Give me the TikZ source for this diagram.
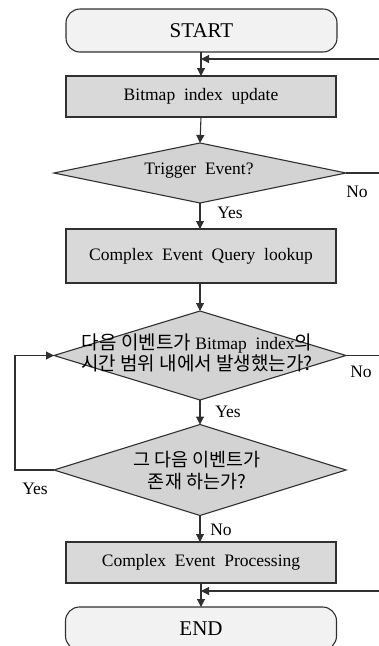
\documentclass[tikz,border=0pt]{standalone}
\usepackage{fontspec}
\setmainfont{Liberation Serif}
\newfontfamily\krfont{Noto Sans CJK KR}
\usetikzlibrary{shapes.geometric,arrows.meta}
\definecolor{termfill}{HTML}{F2F2F2}
\definecolor{boxfill}{HTML}{D9D9D9}
\definecolor{decfill}{HTML}{D3D3D3}
\definecolor{linecol}{HTML}{303030}
\newcommand\wsp{\hspace{0.5em}}
\tikzset{
  x=1pt, y=-1pt,
  base/.style={draw=linecol, line width=1.1pt, inner sep=0pt, outer sep=0pt},
  terminal/.style={base, fill=termfill, rounded corners=14pt,
    minimum width=271pt, minimum height=43pt, font=\fontsize{21}{24}\selectfont},
  process/.style={base, fill=boxfill, minimum width=270pt, font=\fontsize{17.5}{21}\selectfont},
  decision/.style={base, fill=decfill, diamond, minimum width=292pt},
  dtext/.style={align=center, font=\fontsize{17.5}{21}\selectfont},
  krtext/.style={align=center, font=\fontsize{19}{21}\selectfont},
  lbl/.style={font=\fontsize{17.5}{21}\selectfont, inner sep=0pt},
  flow/.style={draw=linecol, line width=1.1pt, -{Triangle[length=8pt,width=8pt]}},
  wire/.style={draw=linecol, line width=1.1pt},
}
\begin{document}
\begin{tikzpicture}
\useasboundingbox (0,0) rectangle (379,646);
\begin{scope}
\clip (0,0) rectangle (379,646);

% main column of boxes and decisions
\node[terminal] (start) at (201.5,30.5) {START};
\node[process, minimum height=41pt] (bitmap) at (201,96.5) {Bitmap\wsp index\wsp update};
\node[decision, minimum height=60pt] (trig) at (200,173) {};
\node[dtext] at (199,171) {Trigger\wsp Event?};
\node[process, minimum height=54pt] (query) at (201,256) {Complex\wsp Event\wsp Query\wsp lookup};
\node[decision, minimum height=89pt] (next) at (200,355.5) {};
\node[krtext] at (197,353) {\krfont 다음 이벤트가 {\rmfamily\fontsize{17.5}{21}\selectfont Bitmap\wsp index}의\\\krfont 시간 범위 내에서 발생했는가?};
\node[decision, minimum height=91pt] (exist) at (200,470) {};
\node[krtext, font=\fontsize{18.5}{22}\selectfont] at (197,471) {\krfont 그 다음 이벤트가\\\krfont 존재 하는가?};
\node[process, minimum height=41pt] (cep) at (201,562.5) {Complex\wsp Event\wsp Processing};
\node[terminal] (end) at (201,628.5) {END};

% loop-back points on the right edge
\coordinate (r1) at (379,59);
\coordinate (r2) at (379,173);
\coordinate (r3) at (379,355.5);
\coordinate (r4) at (379,591);
\coordinate (l1) at (15,470);
\coordinate (l2) at (15,355.5);

% straight flow
\draw[flow] (start.south -| bitmap.north) -- (bitmap.north);
\draw[flow] (bitmap.south) -- (trig.north);
\draw[flow] (trig.south) -- (query.north -| trig.south);
\draw[flow] (query.south -| next.north) -- (next.north);
\draw[flow] (next.south) -- (exist.north);
\draw[flow] (exist.south) -- (cep.north -| exist.south);
\draw[flow] (cep.south) -- (end.north);

% returns from the right edge
\draw[flow] (r1) -- (r1 -| bitmap.north);
\draw[flow] (r4) -- (r4 -| cep.south);
\draw[wire] (trig.east) -- (r2);
\draw[wire] (next.east) -- (r3);

% "Yes" loop on the left
\draw[flow] (exist.west) -- (l1) -- (l2) -- (next.west);

% branch labels
\node[lbl] at (357,192) {No};
\node[lbl] at (230,213) {Yes};
\node[lbl] at (361,372) {No};
\node[lbl] at (228,412) {Yes};
\node[lbl] at (35,489) {Yes};
\node[lbl] at (221,530) {No};
\end{scope}
\end{tikzpicture}
\end{document}
